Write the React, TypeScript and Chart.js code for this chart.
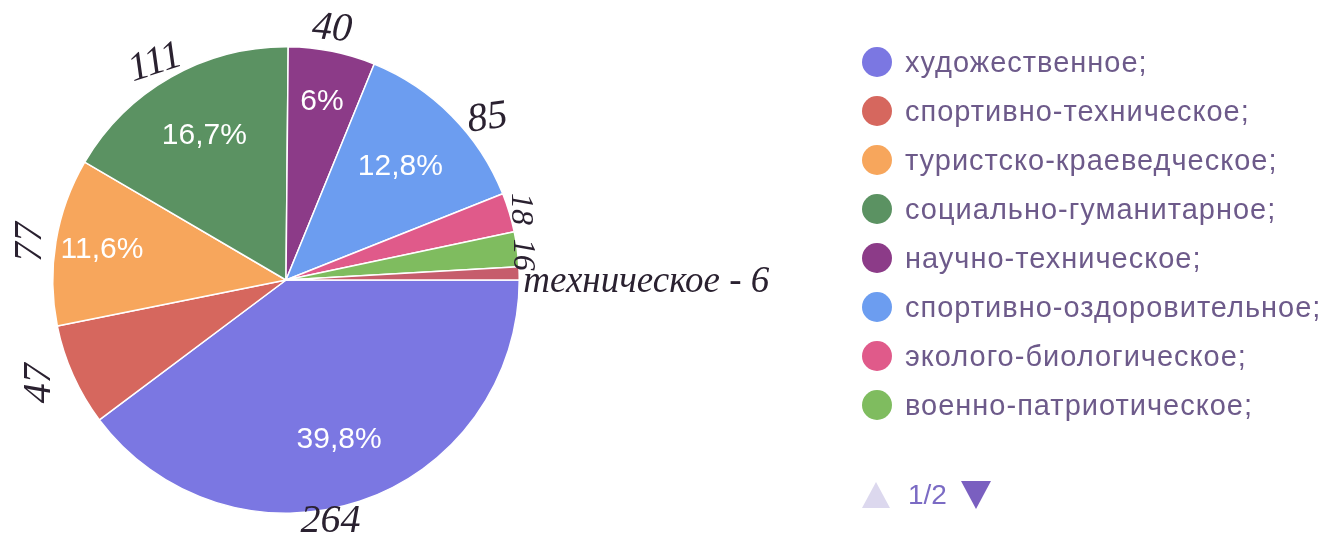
import React, { useEffect, useRef } from "react";
import { Chart, registerables } from "chart.js";

Chart.register(...registerables);

// ---- data ----
const CATEGORIES = [
  "художественное;",
  "спортивно-техническое;",
  "туристско-краеведческое;",
  "социально-гуманитарное;",
  "научно-техническое;",
  "спортивно-оздоровительное;",
  "эколого-биологическое;",
  "военно-патриотическое;",
  "техническое;",
];
const VALUES = [264, 47, 77, 111, 40, 85, 18, 16, 6];
const SHOW_PCT = [true, false, true, true, true, true, false, false, false];
const NOTES = ["264", "47", "77", "111", "40", "85", "18", "16", "техническое - 6"];
const LEGEND_PAGE_SIZE = 8;
const LEGEND_PAGE_TEXT = "1/2";

// ---- styles ----
const COLORS = [
  "#7b77e2",
  "#d6675e",
  "#f7a65c",
  "#5b9262",
  "#8c3b88",
  "#6c9df0",
  "#e05a8a",
  "#7fbc5f",
  "#c65d6c",
];
// label radius factor per slice (fraction of radius)
const PCT_RADIUS = [0.72, 0.74, 0.8, 0.71, 0.78, 0.69, 0.7, 0.7, 0.7];
// handwritten notes: angle delta (deg), radius add (px), rotation (deg), font size
const NOTE_LAYOUT = [
  { da: 8, dr: 12, rot: 0, fs: 40 },
  { da: 1.4, dr: 34, rot: -90, fs: 40 },
  { da: -1, dr: 25, rot: -90, fs: 40 },
  { da: -1.5, dr: 20, rot: -18, fs: 40 },
  { da: -1, dr: 22, rot: 5, fs: 40 },
  { da: 6, dr: 25, rot: -8, fs: 40 },
  { da: 0, dr: 12, rot: 90, fs: 32 },
  { da: 1.5, dr: 4, rot: 90, fs: 32 },
];

const TOTAL = VALUES.reduce((a, b) => a + b, 0);
const fmtPct = (v: number) => {
  let s = ((v / TOTAL) * 100).toFixed(1);
  if (s.endsWith(".0")) s = s.slice(0, -2);
  return s.replace(".", ",") + "%";
};

const HAND_FONT = "'Liberation Serif', 'DejaVu Serif', serif";

const overlayPlugin = {
  id: "overlay",
  afterDatasetsDraw(chart: any) {
    const ctx = chart.ctx as CanvasRenderingContext2D;
    const meta = chart.getDatasetMeta(0);
    ctx.save();
    meta.data.forEach((arc: any, i: number) => {
      const { x, y, startAngle, endAngle, outerRadius } = arc.getProps(
        ["x", "y", "startAngle", "endAngle", "outerRadius"],
        true
      );
      const mid = (startAngle + endAngle) / 2;
      if (SHOW_PCT[i]) {
        const r = outerRadius * PCT_RADIUS[i];
        ctx.font = "30px 'Liberation Sans', Arial, sans-serif";
        ctx.fillStyle = "#ffffff";
        ctx.textAlign = "center";
        ctx.textBaseline = "middle";
        ctx.fillText(fmtPct(VALUES[i]), x + r * Math.cos(mid), y + r * Math.sin(mid));
      }
      // handwritten notes
      ctx.fillStyle = "#2a2130";
      if (i < NOTE_LAYOUT.length) {
        const L = NOTE_LAYOUT[i];
        ctx.font = `italic ${L.fs}px ${HAND_FONT}`;
        const a = mid + (L.da * Math.PI) / 180;
        const r = outerRadius + L.dr;
        ctx.save();
        ctx.translate(x + r * Math.cos(a), y + r * Math.sin(a));
        ctx.rotate((L.rot * Math.PI) / 180);
        ctx.textAlign = "center";
        ctx.textBaseline = "middle";
        ctx.fillText(NOTES[i], 0, 0);
        ctx.restore();
      } else {
        ctx.font = `italic 37px ${HAND_FONT}`;
        ctx.textAlign = "left";
        ctx.textBaseline = "alphabetic";
        ctx.fillText(NOTES[i], x + outerRadius + 4, y + 12);
      }
    });
    ctx.restore();
  },
};

export default function App() {
  const ref = useRef<HTMLCanvasElement | null>(null);
  useEffect(() => {
    if (!ref.current) return;
    const chart = new Chart(ref.current, {
      type: "pie",
      data: {
        labels: CATEGORIES,
        datasets: [
          {
            data: VALUES,
            backgroundColor: COLORS,
            borderColor: "#ffffff",
            borderWidth: 1.5,
          },
        ],
      },
      options: {
        responsive: false,
        animation: false,
        devicePixelRatio: 1,
        rotation: 90,
        layout: { padding: { left: 52, top: 46, right: 807, bottom: 27 } },
        plugins: { legend: { display: false }, tooltip: { enabled: false } },
      },
      plugins: [overlayPlugin],
    });
    return () => chart.destroy();
  }, []);

  const rowTop = (i: number) => 62 + i * 49;
  return (
    <div
      style={{
        position: "fixed",
        left: 0,
        top: 0,
        width: 1327,
        height: 541,
        background: "#ffffff",
        overflow: "hidden",
      }}
    >
      <canvas ref={ref} width={1327} height={541} style={{ position: "absolute", left: 0, top: 0 }} />
      {CATEGORIES.slice(0, LEGEND_PAGE_SIZE).map((c, i) => (
        <div
          key={c}
          style={{
            position: "absolute",
            left: 862,
            top: rowTop(i) - 16,
            height: 32,
            display: "flex",
            alignItems: "center",
            whiteSpace: "nowrap",
          }}
        >
          <span
            style={{
              width: 30,
              height: 30,
              borderRadius: "50%",
              background: COLORS[i],
              display: "inline-block",
              marginRight: 13,
            }}
          />
          <span
            style={{
              fontFamily: "'Liberation Sans', Arial, sans-serif",
              fontSize: 29,
              letterSpacing: 1,
              color: "#6d5a8a",
            }}
          >
            {c}
          </span>
        </div>
      ))}
      <div
        style={{
          position: "absolute",
          left: 862,
          top: 478,
          height: 34,
          display: "flex",
          alignItems: "center",
          fontFamily: "'Liberation Sans', Arial, sans-serif",
          fontSize: 28,
          color: "#7b6bc4",
        }}
      >
        <span
          style={{
            width: 0,
            height: 0,
            borderLeft: "14px solid transparent",
            borderRight: "14px solid transparent",
            borderBottom: "26px solid #dcd8ee",
            marginRight: 18,
          }}
        />
        <span>{LEGEND_PAGE_TEXT}</span>
        <span
          style={{
            width: 0,
            height: 0,
            borderLeft: "15px solid transparent",
            borderRight: "15px solid transparent",
            borderTop: "28px solid #7a5fc0",
            marginLeft: 14,
          }}
        />
      </div>
    </div>
  );
}
